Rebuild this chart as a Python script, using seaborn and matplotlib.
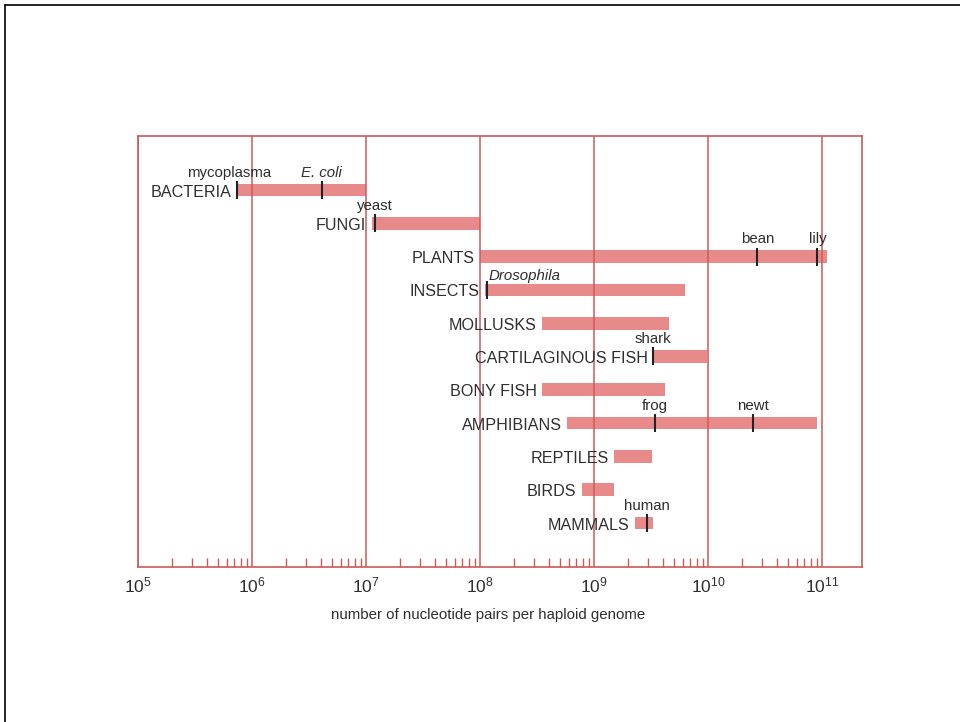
import numpy as np
import pandas as pd
import matplotlib
matplotlib.use("Agg")
import matplotlib.pyplot as plt
import seaborn as sns
from matplotlib.ticker import FixedLocator, NullFormatter
from matplotlib.lines import Line2D

# genome size ranges (nucleotide pairs per haploid genome)
groups = ["BACTERIA", "FUNGI", "PLANTS", "INSECTS", "MOLLUSKS",
          "CARTILAGINOUS FISH", "BONY FISH", "AMPHIBIANS", "REPTILES",
          "BIRDS", "MAMMALS"]
range_low = [7.4e5, 1.12e7, 1.0e8, 1.1e8, 3.5e8, 3.3e9, 3.5e8, 5.8e8, 1.5e9, 7.8e8, 2.3e9]
range_high = [1.0e7, 1.0e8, 1.1e11, 6.3e9, 4.5e9, 9.8e9, 4.2e9, 9.1e10, 3.2e9, 1.5e9, 3.3e9]

# single organisms marked on the bars
mark_names = ["mycoplasma", "E. coli", "yeast", "bean", "lily", "Drosophila",
              "shark", "frog", "newt", "human"]
mark_groups = ["BACTERIA", "BACTERIA", "FUNGI", "PLANTS", "PLANTS", "INSECTS",
               "CARTILAGINOUS FISH", "AMPHIBIANS", "AMPHIBIANS", "MAMMALS"]
mark_values = [7.4e5, 4.1e6, 1.2e7, 2.7e10, 9.1e10, 1.15e8, 3.3e9, 3.4e9, 2.5e10, 2.9e9]

decades = [5, 6, 7, 8, 9, 10, 11]

RED = "#cc5a5a"
BAR = "#e88a8a"
INK = "#2e2e2e"


def main():
    sns.set_theme(style="white")
    plt.rcParams["font.family"] = ["Liberation Sans", "DejaVu Sans"]
    plt.rcParams["mathtext.fontset"] = "custom"
    plt.rcParams["mathtext.rm"] = "Liberation Sans"
    plt.rcParams["mathtext.it"] = "Liberation Sans:italic"

    df = pd.DataFrame({"group": groups, "low": range_low, "high": range_high})
    df["row"] = np.arange(len(df))
    marks = pd.DataFrame({"name": mark_names, "group": mark_groups, "value": mark_values})
    marks["row"] = marks["group"].map(dict(zip(df["group"], df["row"])))

    fig = plt.figure(figsize=(9.6, 7.22), dpi=100)
    ax = fig.add_axes([138 / 960, 1 - 567 / 722, 724 / 960, 431 / 722])

    ax.barh(df["row"], df["high"] - df["low"], left=df["low"], height=0.38,
            color=BAR, edgecolor="none", zorder=1)
    sns.scatterplot(data=marks, x="value", y="row", marker="|", s=170,
                    color="#222222", linewidth=1.5, ax=ax, zorder=4, legend=False)

    ax.set_xscale("log")
    ax.set_xlim(10 ** 5, 10 ** 11.35)
    ax.set_ylim(len(groups) - 1 + 1.32, -1.62)
    ax.set_yticks([])
    ax.set_ylabel("")

    # decade lines and minor ticks
    ax.xaxis.set_major_locator(FixedLocator([10.0 ** d for d in decades]))
    ax.set_xticklabels([f"$10^{{{d}}}$" for d in decades], fontsize=12.5, color=INK)
    minor = [m * 10.0 ** d for d in decades[:-1] for m in range(2, 10)]
    ax.xaxis.set_minor_locator(FixedLocator(minor))
    ax.xaxis.set_minor_formatter(NullFormatter())
    ax.tick_params(axis="x", which="major", length=0, pad=6)
    ax.tick_params(axis="x", which="minor", direction="in", length=6.5, width=1,
                   color=RED, bottom=True)
    ax.grid(axis="x", which="major", color=RED, linewidth=1.1)
    ax.grid(axis="y", visible=False)
    ax.set_axisbelow(False)
    for sp in ax.spines.values():
        sp.set_color(RED)
        sp.set_linewidth(1.2)

    ax.set_xlabel("number of nucleotide pairs per haploid genome", fontsize=10.8, color=INK)
    ax.xaxis.set_label_coords(0.483, -0.094)

    # group labels to the left of each bar
    for _, r in df.iterrows():
        ax.annotate(r["group"], xy=(r["low"], r["row"]), xytext=(-4, -1.5),
                    textcoords="offset points", ha="right", va="center",
                    fontsize=11.6, color=INK, zorder=5)

    # organism labels above the marks
    for _, m in marks.iterrows():
        italic = m["name"] in ("E. coli", "Drosophila")
        ha = "left" if m["name"] == "Drosophila" else "center"
        dx = {"mycoplasma": -6, "Drosophila": 1}.get(m["name"], 0)
        dy = 10 if m["name"] == "Drosophila" else 12.5
        ax.annotate(m["name"], xy=(m["value"], m["row"]), xytext=(dx, dy),
                    textcoords="offset points", ha=ha, va="center",
                    fontsize=10.8, color=INK, style="italic" if italic else "normal",
                    zorder=5)

    # page frame of the scanned slide
    fig.add_artist(Line2D([0.005, 0.005], [0.0, 0.993], transform=fig.transFigure,
                          color="black", linewidth=1.2))
    fig.add_artist(Line2D([0.005, 1.0], [0.993, 0.993], transform=fig.transFigure,
                          color="black", linewidth=1.2))

    fig.savefig("out.png", dpi=100)


if __name__ == "__main__":
    main()
